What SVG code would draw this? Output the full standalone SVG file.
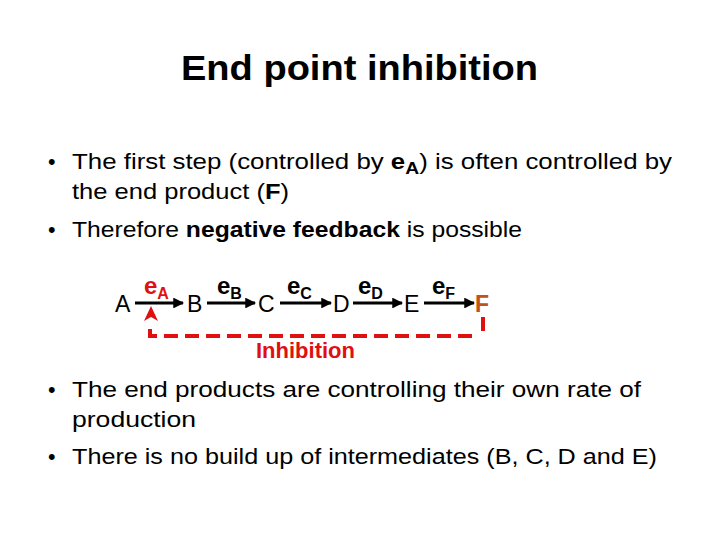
<svg xmlns="http://www.w3.org/2000/svg" width="720" height="540" viewBox="0 0 720 540">
  <style>
    .title { font-family: "Liberation Sans", Arial, sans-serif; font-weight: bold; font-size: 35px; fill: #000; }
    .body { font-family: "Liberation Sans", Arial, sans-serif; font-size: 21.5px; fill: #000; }
    .b { font-weight: bold; }
    .node { font-family: "Liberation Sans", Arial, sans-serif; font-size: 23px; fill: #000; }
    .enz { font-family: "Liberation Sans", Arial, sans-serif; font-weight: bold; font-size: 24px; fill: #000; }
    .sub { font-size: 16px; }
    .red { fill: #E01010; }
    .arrow { stroke: #000; stroke-width: 3; fill: none; marker-end: url(#ah); }
    .inh { stroke: #E01010; stroke-width: 4; fill: none; stroke-dasharray: 14 7; }
  </style>
  <defs>
    <marker id="ah" viewBox="0 0 10 10" refX="9" refY="5" markerWidth="3.6" markerHeight="3.6" markerUnits="strokeWidth" orient="auto">
      <path d="M0,0 L10,5 L0,10 Z" fill="#000"/>
    </marker>
  </defs>

  <rect width="720" height="540" fill="#fff"/>

  <text class="title" x="181" y="80" textLength="357" lengthAdjust="spacingAndGlyphs">End point inhibition</text>

  <g id="bullets-top">
    <text class="body" x="48" y="169">•</text>
    <text class="body" x="72" y="169" textLength="600" lengthAdjust="spacingAndGlyphs">The first step (controlled by <tspan class="b">e</tspan><tspan class="b sub" dy="5">A</tspan><tspan dy="-5">) is often controlled by</tspan></text>
    <text class="body" x="72" y="199" textLength="217" lengthAdjust="spacingAndGlyphs">the end product (<tspan class="b">F</tspan>)</text>
    <text class="body" x="48" y="237">•</text>
    <text class="body" x="72" y="237" textLength="450" lengthAdjust="spacingAndGlyphs">Therefore <tspan class="b">negative feedback</tspan> is possible</text>
  </g>

  <g id="node-A"><text class="node" x="115" y="312">A</text></g>
  <g id="node-B"><text class="node" x="187" y="312">B</text></g>
  <g id="node-C"><text class="node" x="258" y="312">C</text></g>
  <g id="node-D"><text class="node" x="333" y="312">D</text></g>
  <g id="node-E"><text class="node" x="404" y="312">E</text></g>
  <g id="node-F"><text class="node b" x="475" y="312" style="fill:#C4501A">F</text></g>

  <g id="enzymes">
    <text class="enz red" x="144" y="294">e<tspan class="sub" dy="5">A</tspan></text>
    <text class="enz" x="217" y="294">e<tspan class="sub" dy="5">B</tspan></text>
    <text class="enz" x="287" y="294">e<tspan class="sub" dy="5">C</tspan></text>
    <text class="enz" x="358" y="294">e<tspan class="sub" dy="5">D</tspan></text>
    <text class="enz" x="432" y="294">e<tspan class="sub" dy="5">F</tspan></text>
  </g>

  <g id="connectors">
    <line class="arrow" x1="135" y1="303" x2="183" y2="303"/>
    <line class="arrow" x1="207" y1="303" x2="255" y2="303"/>
    <line class="arrow" x1="280" y1="303" x2="331" y2="303"/>
    <line class="arrow" x1="353" y1="303" x2="402" y2="303"/>
    <line class="arrow" x1="424" y1="303" x2="474" y2="303"/>
    <path class="inh" d="M150,329 L150,336 L478,336"/>
    <line x1="483" y1="317" x2="483" y2="331" stroke="#E01010" stroke-width="4"/>
    <path d="M151,306 L158,321 L151,317 L144,321 Z" fill="#E01010"/>
  </g>

  <g id="label-inhibition">
    <text class="enz red" x="256" y="358" style="font-size:22px">Inhibition</text>
  </g>

  <g id="bullets-bottom">
    <text class="body" x="48" y="397">•</text>
    <text class="body" x="72" y="397" textLength="569" lengthAdjust="spacingAndGlyphs">The end products are controlling their own rate of</text>
    <text class="body" x="72" y="427" textLength="124" lengthAdjust="spacingAndGlyphs">production</text>
    <text class="body" x="48" y="464">•</text>
    <text class="body" x="72" y="464" textLength="585" lengthAdjust="spacingAndGlyphs">There is no build up of intermediates (B, C, D and E)</text>
  </g>
</svg>
